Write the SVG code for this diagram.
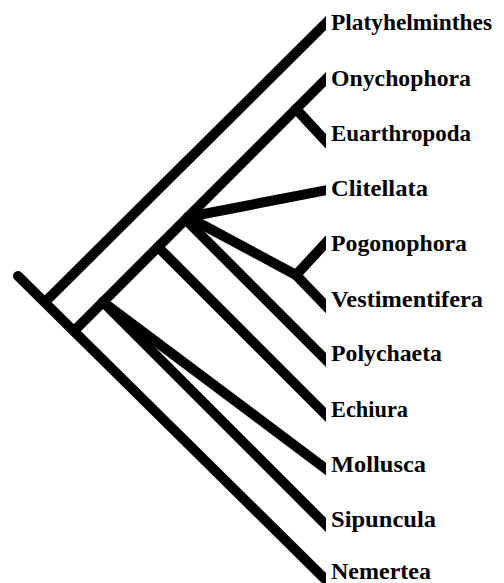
<svg xmlns="http://www.w3.org/2000/svg" width="504" height="583" viewBox="0 0 504 583">
<style>
.br{stroke:#000;stroke-width:10;stroke-linecap:round;fill:none}
.lb{font-family:"Liberation Serif","Times New Roman",serif;font-weight:bold;font-size:22.5px;fill:#000}
</style>
<defs>
<clipPath id="cut"><rect x="0" y="0" width="326" height="583"/></clipPath>
</defs>
<rect width="504" height="583" fill="#fff"/>
<g id="connectors" clip-path="url(#cut)">
<line class="br" x1="18" y1="276" x2="331" y2="585"/>
<line class="br" x1="45" y1="302" x2="331" y2="18"/>
<line class="br" x1="74" y1="331" x2="331" y2="74"/>
<line class="br" x1="296" y1="109" x2="331" y2="146.7"/>
<line class="br" x1="188" y1="217" x2="331" y2="189.3"/>
<line class="br" x1="188" y1="217" x2="296" y2="275"/>
<line class="br" x1="296" y1="275" x2="331" y2="237.3"/>
<line class="br" x1="296" y1="275" x2="331" y2="311.3"/>
<line class="br" x1="186" y1="220" x2="331" y2="365"/>
<line class="br" x1="158" y1="247" x2="331" y2="420"/>
<line class="br" x1="103" y1="302" x2="331" y2="472.7"/>
<line class="br" x1="103" y1="302" x2="331" y2="530"/>
</g>
<g id="platyhelminthes"><text class="lb" x="331" y="30" textLength="161" lengthAdjust="spacingAndGlyphs">Platyhelminthes</text></g>
<g id="onychophora"><text class="lb" x="331" y="86" textLength="140" lengthAdjust="spacingAndGlyphs">Onychophora</text></g>
<g id="euarthropoda"><text class="lb" x="331" y="141" textLength="140" lengthAdjust="spacingAndGlyphs">Euarthropoda</text></g>
<g id="clitellata"><text class="lb" x="331" y="196" textLength="97" lengthAdjust="spacingAndGlyphs">Clitellata</text></g>
<g id="pogonophora"><text class="lb" x="331" y="251" textLength="136" lengthAdjust="spacingAndGlyphs">Pogonophora</text></g>
<g id="vestimentifera"><text class="lb" x="331" y="307" textLength="152" lengthAdjust="spacingAndGlyphs">Vestimentifera</text></g>
<g id="polychaeta"><text class="lb" x="331" y="361" textLength="111" lengthAdjust="spacingAndGlyphs">Polychaeta</text></g>
<g id="echiura"><text class="lb" x="331" y="417" textLength="77" lengthAdjust="spacingAndGlyphs">Echiura</text></g>
<g id="mollusca"><text class="lb" x="331" y="472" textLength="95" lengthAdjust="spacingAndGlyphs">Mollusca</text></g>
<g id="sipuncula"><text class="lb" x="331" y="527" textLength="105" lengthAdjust="spacingAndGlyphs">Sipuncula</text></g>
<g id="nemertea"><text class="lb" x="331" y="579" textLength="100" lengthAdjust="spacingAndGlyphs">Nemertea</text></g>
</svg>
